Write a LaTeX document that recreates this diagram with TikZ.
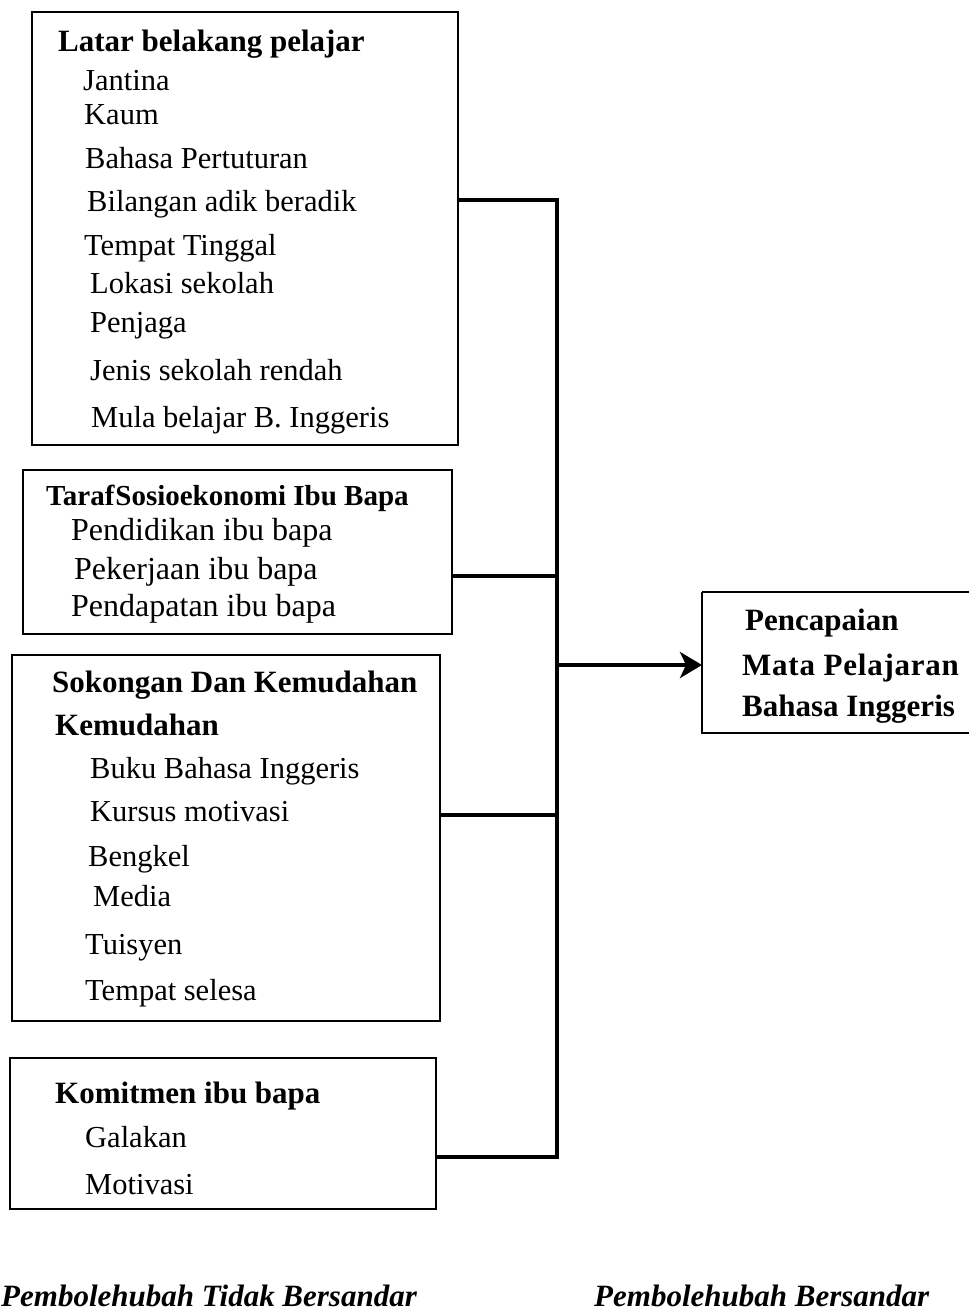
\documentclass[tikz,border=0pt]{standalone}
\usepackage{fontspec}
\setmainfont{Liberation Serif}
\usetikzlibrary{arrows.meta}
\begin{document}
\begin{tikzpicture}[x=1pt,y=-1pt,
  boxline/.style={draw=black,line width=2pt},
  conn/.style={draw=black,line width=4pt},
  item/.style={anchor=base west,inner sep=0pt,font=\fontsize{30.5}{36}\selectfont},
  bigitem/.style={anchor=base west,inner sep=0pt,font=\fontsize{32}{36}\selectfont},
  head/.style={anchor=base west,inner sep=0pt,font=\fontsize{31}{36}\selectfont\bfseries},
  smallhead/.style={anchor=base west,inner sep=0pt,font=\fontsize{29}{36}\selectfont\bfseries},
  foot/.style={anchor=base west,inner sep=0pt,font=\fontsize{31}{36}\selectfont\bfseries\itshape}]
\useasboundingbox (0,0) rectangle (969,1315);
% boxes
\draw[boxline] (32,12) rectangle (458,445);
\coordinate (b1e) at (458,200);
\draw[boxline] (23,470) rectangle (452,634);
\coordinate (b2e) at (452,576);
\draw[boxline] (12,655) rectangle (440,1021);
\coordinate (b3e) at (440,815);
\draw[boxline] (10,1058) rectangle (436,1209);
\coordinate (b4e) at (436,1157);
\draw[boxline] (702,592) -- (975,592) (702,592) -- (702,733) -- (975,733);
\coordinate (b5w) at (702,665);
% box 1 text
\node[head] (h1) at (58,51) {Latar belakang pelajar};
\node[item] (t11) at (83,90) {Jantina};
\node[item] (t12) at (84,124) {Kaum};
\node[item] (t13) at (85,168) {Bahasa Pertuturan};
\node[item] (t14) at (87,211) {Bilangan adik beradik};
\node[item] (t15) at (84,255) {Tempat Tinggal};
\node[item] (t16) at (90,293) {Lokasi sekolah};
\node[item] (t17) at (90,332) {Penjaga};
\node[item] (t18) at (90,380) {Jenis sekolah rendah};
\node[item] (t19) at (91,427) {Mula belajar B. Inggeris};
% box 2
\node[smallhead] (h2) at (46,505) {Taraf\kern1pt Sosioekonomi Ibu Bapa};
\node[bigitem] (t21) at (71,540) {Pendidikan ibu bapa};
\node[bigitem] (t22) at (74,579) {Pekerjaan ibu bapa};
\node[bigitem] (t23) at (71,616) {Pendapatan ibu bapa};
% box 3
\node[head] (h3) at (52,692) {Sokongan Dan Kemudahan};
\node[head] (h3b) at (55,735) {Kemudahan};
\node[item] (t31) at (90,778) {Buku Bahasa Inggeris};
\node[item] (t32) at (90,821) {Kursus motivasi};
\node[item] (t33) at (88,866) {Bengkel};
\node[item] (t34) at (93,906) {Media};
\node[item] (t35) at (85,954) {Tuisyen};
\node[item] (t36) at (85,1000) {Tempat selesa};
% box 4
\node[head] (h4) at (55,1103) {Komitmen ibu bapa};
\node[item] (t41) at (85,1147) {Galakan};
\node[item] (t42) at (85,1194) {Motivasi};
% box 5
\node[head] (h5a) at (745,630) {Pencapaian};
\node[head] (h5b) at (742,675) {\addfontfeatures{LetterSpace=2.5}Mata Pelajaran};
\node[head] (h5c) at (742,716) {Bahasa Inggeris};
% connectors
\coordinate (jt) at (557,200);
\coordinate (jb) at (557,1157);
\coordinate (jm) at (557,665);
\draw[conn] (b1e) -- (jt) -- (jb) -- (b4e);
\draw[conn] (b2e) -- (557,576);
\draw[conn] (b3e) -- (557,815);
\draw[conn,-{Stealth[length=22pt,width=26pt,inset=6pt]}] (jm) -- (b5w);
% footer
\node[foot] (f1) at (1,1306) {Pembolehubah Tidak Bersandar};
\node[foot] (f2) at (594,1306) {Pembolehubah Bersandar};
\end{tikzpicture}
\end{document}
